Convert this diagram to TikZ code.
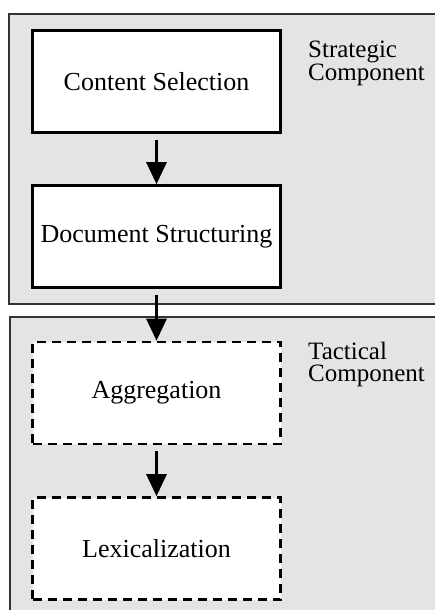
\documentclass[tikz,border=0pt]{standalone}
\usepackage{fontspec}
\setmainfont{Liberation Serif}
\usetikzlibrary{arrows.meta}

\definecolor{panelfill}{HTML}{E4E4E4}
\definecolor{panelline}{HTML}{333333}

\tikzset{
  panel/.style={fill=panelfill, draw=panelline, line width=1.5pt},
  stagebox/.style={draw=black, fill=white, line width=2.6pt,
    minimum width=248pt, minimum height=102pt, inner sep=0pt,
    font=\fontsize{26pt}{30pt}\selectfont},
  optbox/.style={stagebox, dash pattern=on 9pt off 6pt},
  sidelabel/.style={anchor=base west, inner sep=0pt,
    font=\fontsize{25pt}{21pt}\selectfont},
  flow/.style={line width=3pt, -{Triangle[width=20pt,length=22pt]},
    shorten <=6pt}
}

\begin{document}
\begin{tikzpicture}[x=1pt,y=1pt]
  \useasboundingbox (0,0) rectangle (435,-610);
  \clip (0,0) rectangle (435,-610);

  % component panels
  \draw[panel] (9,-14) rectangle (445,-304);
  \draw[panel] (10,-317) rectangle (445,-625);

  % pipeline stages
  \node[stagebox] (cs)  at (156.5,-81.5)  {Content Selection};
  \node[stagebox] (ds)  at (156.5,-236.5) {Document Structuring};
  \node[optbox]   (agg) at (156.5,-393)   {Aggregation};
  \node[optbox]   (lex) at (156.5,-548.5) {Lexicalization};

  % panel labels
  \node[sidelabel] (strat) at (308,-57.5)
    {\begin{tabular}[t]{@{}l@{}}Strategic\\Component\end{tabular}};
  \node[sidelabel] (tact) at (308,-359)
    {\begin{tabular}[t]{@{}l@{}}Tactical\\Component\end{tabular}};

  % flow between stages
  \draw[flow] (cs.south)  -- (ds.north);
  \draw[flow] (ds.south)  -- (agg.north);
  \draw[flow] (agg.south) -- (lex.north);
\end{tikzpicture}
\end{document}
